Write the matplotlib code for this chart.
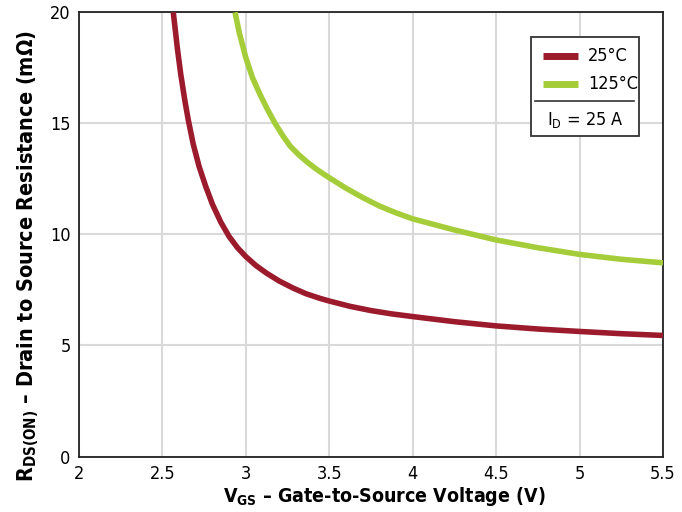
import matplotlib
matplotlib.use("Agg")
import matplotlib.pyplot as plt
from matplotlib.patches import Rectangle
from matplotlib.lines import Line2D

# Data
vgs_25 = [2.565, 2.59, 2.61, 2.635, 2.655, 2.685, 2.72, 2.76, 2.80, 2.85, 2.90,
          2.95, 3.0, 3.06, 3.125, 3.2, 3.284, 3.36, 3.444, 3.5, 3.625, 3.75,
          3.875, 4.0, 4.25, 4.5, 4.75, 5.0, 5.25, 5.5]
rds_25 = [20.0, 18.35, 17.2, 16.0, 15.15, 14.05, 13.05, 12.15, 11.35, 10.55, 9.9,
          9.4, 9.0, 8.6, 8.25, 7.9, 7.58, 7.33, 7.12, 7.0, 6.76, 6.57,
          6.42, 6.3, 6.07, 5.88, 5.74, 5.63, 5.53, 5.45]

vgs_125 = [2.935, 2.96, 3.0, 3.04, 3.085, 3.13, 3.175, 3.22, 3.265, 3.315, 3.365,
           3.415, 3.465, 3.5, 3.6, 3.7, 3.8, 3.9, 4.0, 4.25, 4.5, 4.75, 5.0,
           5.25, 5.5]
rds_125 = [20.0, 19.1, 17.95, 17.05, 16.3, 15.62, 15.0, 14.46, 13.98, 13.6, 13.27,
           12.98, 12.72, 12.55, 12.08, 11.66, 11.28, 10.97, 10.7, 10.2, 9.75, 9.4,
           9.1, 8.88, 8.72]

xticks = [2, 2.5, 3, 3.5, 4, 4.5, 5, 5.5]
xticklabels = ["2", "2.5", "3", "3.5", "4", "4.5", "5", "5.5"]
yticks = [0, 5, 10, 15, 20]
labels = ["25°C", "125°C"]

RED = "#9b1b2d"
GREEN = "#a5cd39"

plt.rcParams['font.family'] = ['DejaVu Sans']
plt.rcParams['font.stretch'] = 'condensed'
plt.rcParams['mathtext.fontset'] = 'custom'
plt.rcParams['mathtext.rm'] = 'DejaVu Sans:stretch=condensed'
plt.rcParams['mathtext.bf'] = 'DejaVu Sans:weight=bold:stretch=condensed'

W, H = 682, 512
fig = plt.figure(figsize=(W / 100, H / 100), dpi=100)
L, R, T, B = 79, 663, 12.3, 456.5
ax = fig.add_axes([L / W, 1 - B / H, (R - L) / W, (B - T) / H])

ax.plot(vgs_25, rds_25, color=RED, lw=4, solid_capstyle='butt',
        solid_joinstyle='round', zorder=3)
ax.plot(vgs_125, rds_125, color=GREEN, lw=4, solid_capstyle='butt',
        solid_joinstyle='round', zorder=3)

ax.set_xlim(2, 5.5)
ax.set_ylim(0, 20)
ax.set_xticks(xticks)
ax.set_xticklabels(xticklabels)
ax.set_yticks(yticks)
ax.grid(True, color="#d9d9d9", lw=1.5, zorder=0)
ax.set_axisbelow(True)
ax.tick_params(length=0, labelsize=13, pad=6)
for s in ax.spines.values():
    s.set_linewidth(1.3)
    s.set_color("#222222")

ax.set_xlabel(r"V$_{\mathbf{GS}}$ – Gate-to-Source Voltage (V)", fontsize=14,
              fontweight='bold')
ax.xaxis.set_label_coords((384 - L) / (R - L), (B - 485) / (B - T))
ax.set_ylabel(r"R$_{\mathbf{DS(ON)}}$ – Drain to Source Resistance (mΩ)", fontsize=15.5,
              fontweight='bold')
ax.yaxis.set_label_coords((41 - L) / (R - L), (B - 256) / (B - T))


def px(x, y):
    return ((x - L) / (R - L), (B - y) / (B - T))


tr = ax.transAxes
x0, y0 = px(531, 135.7)
x1, y1 = px(639.3, 36.7)
ax.add_patch(Rectangle((x0, y0), x1 - x0, y1 - y0, transform=tr, facecolor='white',
                       edgecolor='#333333', lw=1.3, zorder=5))
for yy, col, lab in [(56, RED, labels[0]), (84, GREEN, labels[1])]:
    a = px(543, yy)
    b = px(578, yy)
    ax.add_line(Line2D([a[0], b[0]], [a[1], b[1]], transform=tr, color=col, lw=5,
                       solid_capstyle='butt', zorder=6))
    t = px(588, yy)
    ax.text(t[0], t[1], lab, transform=tr, fontsize=13, va='center', ha='left', zorder=6)
a = px(535, 100.7)
b = px(634, 100.7)
ax.add_line(Line2D([a[0], b[0]], [a[1], b[1]], transform=tr, color='#333333', lw=1.2, zorder=6))
t = px(585, 120)
ax.text(t[0], t[1], r"I$_{\mathrm{D}}$ = 25 A", transform=tr, fontsize=13, va='center',
        ha='center', zorder=6)

fig.savefig("out.png", dpi=100)
